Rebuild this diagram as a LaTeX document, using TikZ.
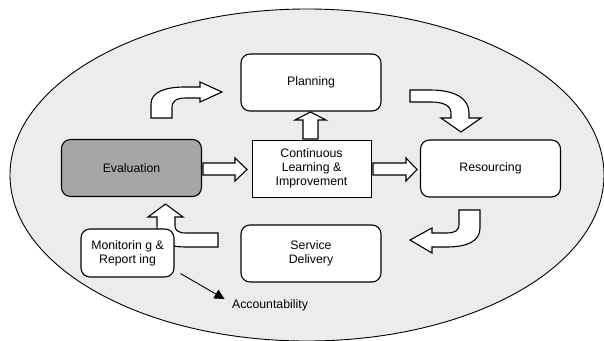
\documentclass[tikz,border=0pt]{standalone}
\usepackage{fontspec}
\setmainfont{Liberation Sans}
\usetikzlibrary{arrows.meta,calc}
\definecolor{bggray}{HTML}{ECECEC}
\definecolor{evalgray}{HTML}{A6A6A6}

\begin{document}
\begin{tikzpicture}[x=1pt,y=-1pt,
    box/.style={draw,line width=1.1pt,fill=white,rounded corners=9pt,
      minimum width=140pt,minimum height=57pt,align=center,
      font=\fontsize{12.3}{14}\selectfont},
    blk/.style={draw,line width=1.1pt,fill=white,line join=miter}]
  \useasboundingbox (0,0) rectangle (604,340);
  % background ellipse
  \begin{scope}
    \clip (0,0) rectangle (604,340);
    \draw[fill=bggray,line width=0.9pt] (307,175) ellipse [x radius=297,y radius=166];
  \end{scope}

  % the cycle
  \node[box] (plan) at (311,82.5) {Planning};
  \node[box,fill=evalgray] (eval) at (131.5,168) {Evaluation};
  \node[box,sharp corners,line width=0.8pt,minimum width=119pt] (cont) at (311.5,168.5)
    {Continuous\\Learning \&\\Improvement};
  \node[box] (res) at (490.5,168.5) {Resourcing};
  \node[box] (serv) at (311,253.5) {Service\\Delivery};

  % block arrows
  \draw[blk] (151,118) -- (151,104) .. controls (151,92) and (165,87) .. (185,87)
    -- (200,87) -- (200,82) -- (222,92) -- (200,102) -- (200,98) -- (186,98)
    .. controls (176,98) and (172,101) .. (172,108) -- (172,118) -- cycle;
  \draw[blk] (410,90) -- (430,90) .. controls (456,90) and (469,99) .. (469,113)
    -- (469,118) -- (481,118) -- (461,132) -- (441,118) -- (451,118) -- (451,114)
    .. controls (451,106) and (445,102) .. (430,102) -- (410,102) -- cycle;
  \draw[blk] (303,139) -- (303,120) -- (295,120) -- (310.5,112) -- (326,120)
    -- (318,120) -- (318,139) -- cycle;
  \draw[blk] (203,163) -- (235,163) -- (235,158) -- (247,169.5) -- (235,181)
    -- (235,175) -- (203,175) -- cycle;
  \draw[blk] (373,163) -- (406,163) -- (406,158) -- (417,169.5) -- (406,181)
    -- (406,175) -- (373,175) -- cycle;
  \draw[blk] (459,210) -- (480,210) -- (480,228) .. controls (480,242) and (466,247) .. (446,247)
    -- (432,247) -- (432,253) -- (410,240) -- (432,228) -- (432,233) -- (446,233)
    .. controls (455,233) and (459,231) .. (459,224) -- cycle;
  \draw[blk] (218,233) -- (218,247) -- (186,247) .. controls (165,247) and (157,240) .. (157,225)
    -- (157,217) -- (148,217) -- (165.5,204) -- (183,217) -- (175,217) -- (175,226)
    .. controls (175,230) and (178,233) .. (186,233) -- cycle;

  \node[box,minimum width=93pt,minimum height=48pt] (mon) at (127.5,253)
    {Monitorin g \&\\Report ing};
  \node[font=\fontsize{12.3}{14}\selectfont] (acc) at (270,305) {Accountability};
  \draw[-{Triangle[length=10pt,width=10pt]},line width=0.9pt]
    ($(mon.south east)+(6,-4)$) -- ($(acc.west)+(-4,-6)$);
\end{tikzpicture}
\end{document}
